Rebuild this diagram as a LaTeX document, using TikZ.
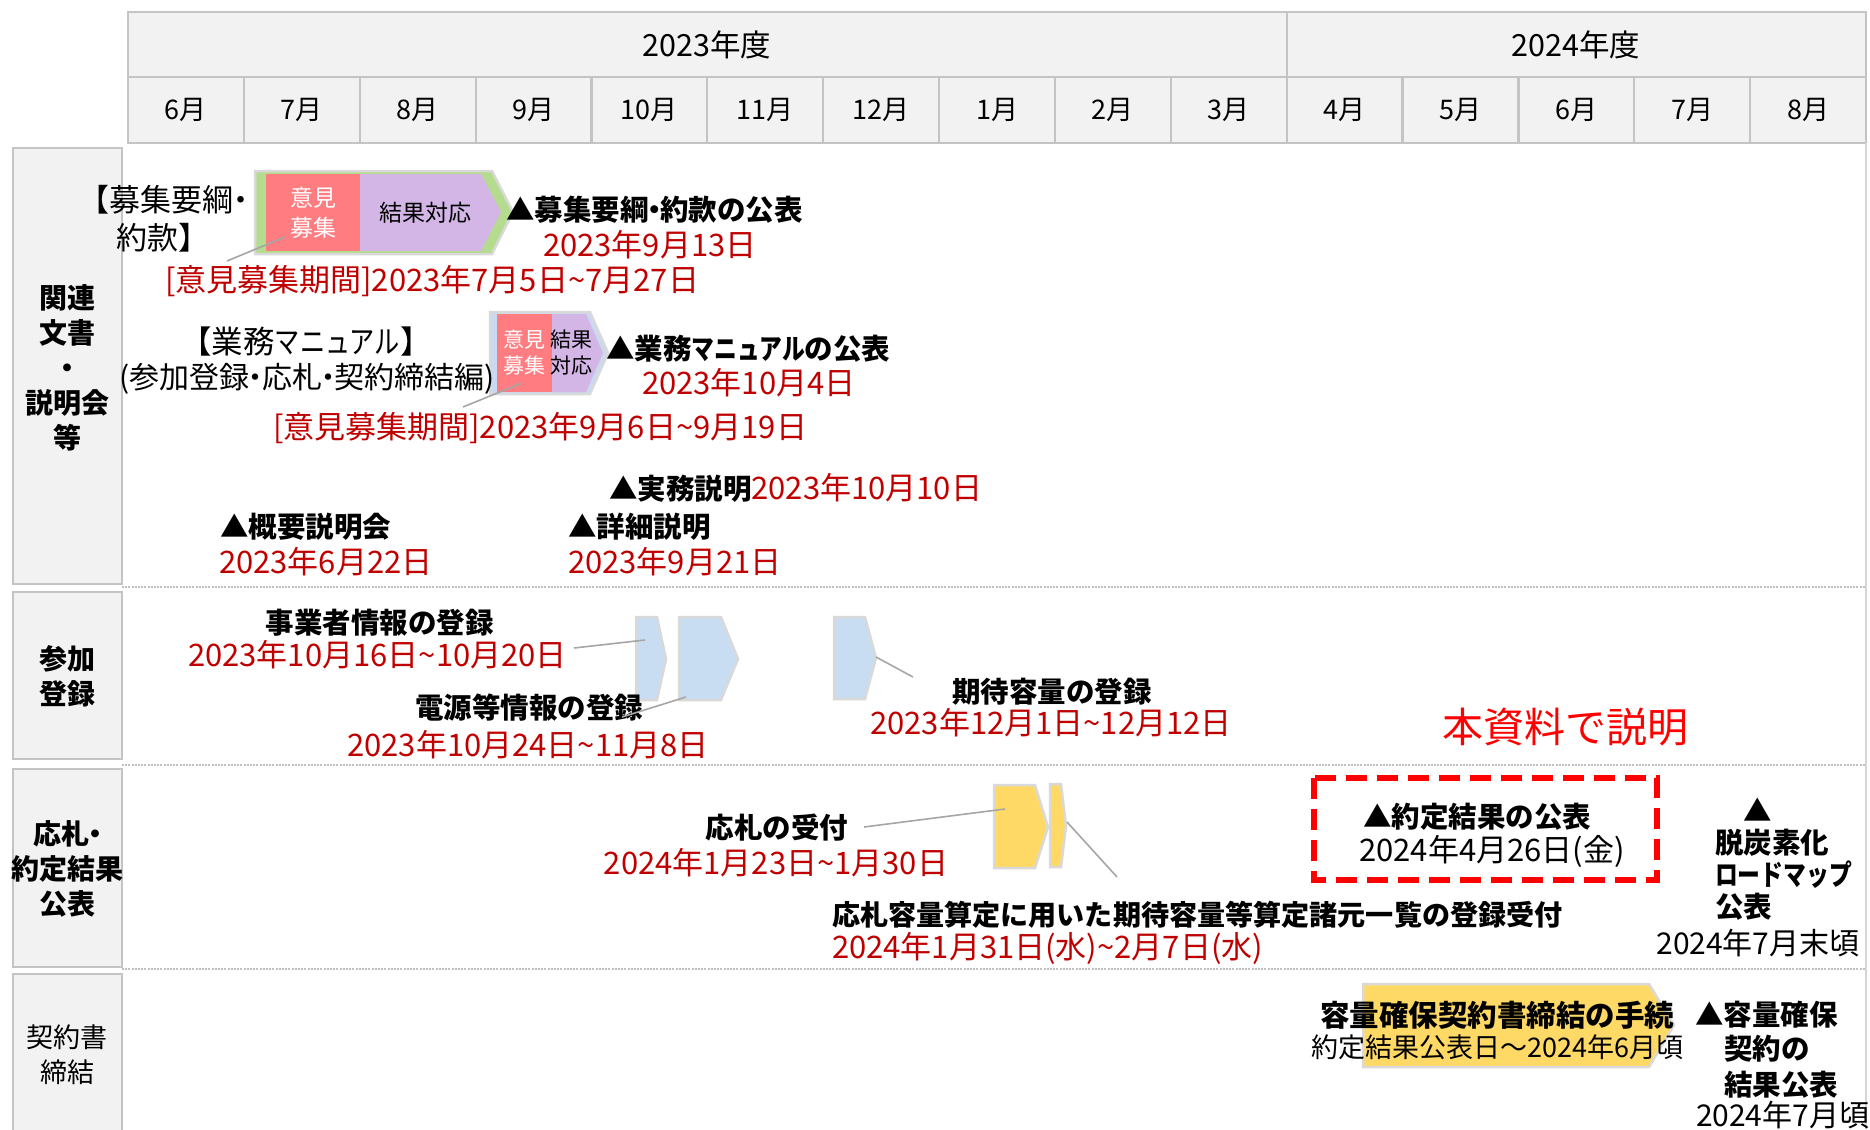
\documentclass[tikz,border=0pt]{standalone}
\usepackage{fontspec}
\usepackage{graphicx}
\setmainfont{Noto Sans CJK JP}
\definecolor{hdrfill}{HTML}{F2F2F2}
\definecolor{hdrline}{HTML}{C4C4C4}
\definecolor{darkred}{HTML}{C00000}
\definecolor{brightred}{HTML}{FF0000}
\definecolor{pinkc}{HTML}{FF7C80}
\definecolor{purplec}{HTML}{D3B6E6}
\definecolor{greenc}{HTML}{B5DC8E}
\definecolor{bluegray}{HTML}{C9DAF0}
\definecolor{lblue}{HTML}{C8DDF2}
\definecolor{yel}{HTML}{FFD966}
\definecolor{shapeline}{HTML}{D9D9D9}
\definecolor{leadc}{HTML}{A6A6A6}
\definecolor{sepc}{HTML}{BFBFBF}
\newcommand\kdot{\makebox[0.42em]{・}}
\newcommand\kana[1]{\scalebox{0.8}[1]{#1}}
\tikzset{
  every node/.style={inner sep=0pt, outer sep=0pt},
  hdrcell/.style={draw=hdrline, line width=2.2pt, fill=hdrfill},
  catbox/.style={draw=hdrline, line width=2.8pt, fill=hdrfill},
  hd/.style={font=\fontsize{27}{33}\selectfont},
  hdy/.style={font=\fontsize{30.5}{36}\selectfont},
  cat/.style={font=\fontsize{28}{35}\selectfont\bfseries, align=center},
  catn/.style={font=\fontsize{27}{35}\selectfont, align=center},
  bk/.style={font=\fontsize{28.5}{32}\selectfont\bfseries},
  rd/.style={font=\fontsize{31}{36}\selectfont, text=darkred},
  nm/.style={font=\fontsize{28}{37}\selectfont},
  inw/.style={font=\fontsize{23}{30}\selectfont, text=white, align=center},
  inb/.style={font=\fontsize{23}{30}\selectfont, align=center},
  inws/.style={font=\fontsize{21}{26}\selectfont, text=white, align=center},
  inbs/.style={font=\fontsize{21}{26}\selectfont, align=center},
  shp/.style={draw=shapeline, line width=2.5pt, line join=miter},
  leader/.style={draw=leadc, line width=1.6pt},
  sepline/.style={draw=sepc, line width=1.4pt, dash pattern=on 2pt off 1.2pt},
}
\begin{document}
\begin{tikzpicture}[x=1pt,y=-1pt]
\useasboundingbox[fill=white] (0,0) rectangle (1870,1129);

% ---------- header ----------
\def\cw{115.8667}
\path[hdrcell] (128,12) rectangle (1286.67,77);
\path[hdrcell] (1286.67,12) rectangle (1866,77);
\node[hdy] (y23) at (707,44.5) {2023年度};
\node[hdy] (y24) at (1576,44.5) {2024年度};
\foreach \m [count=\i from 0] in {6,7,8,9,10,11,12,1,2,3,4,5,6,7,8}{
  \pgfmathsetmacro\xa{128+\i*\cw}
  \pgfmathsetmacro\xb{128+(\i+1)*\cw}
  \path[hdrcell] (\xa,77) rectangle (\xb,143);
  \node[hd] (mon\i) at ({(\xa+\xb)/2},110) {\m 月};
}

% ---------- separators and right edge ----------
\draw[sepline] (122,587) -- (1866,587);
\draw[sepline] (122,765) -- (1866,765);
\draw[sepline] (122,969) -- (1866,969);
\draw[draw=hdrline!70, line width=1.2pt] (1866,143) -- (1866,1129);

% ---------- category boxes ----------
\path[catbox] (13,148) rectangle (122,584);
\node[cat] (c1) at (67.5,367.5) {関連\\文書\\・\\説明会\\等};
\path[catbox] (13,592) rectangle (122,759);
\node[cat] (c2) at (67.5,676) {参加\\登録};
\path[catbox] (13,769) rectangle (122,967);
\node[cat] (c3) at (67.5,869) {応札\kdot\\約定結果\\公表};
\path[catbox] (13,974) rectangle (122,1140);
\node[catn] (c4) at (67.5,1055) {契約書\\締結};

% ---------- row 1 : 募集要綱・約款 ----------
\path[shp, fill=greenc] (255,171) -- (492,171) -- (513,212) -- (492,254) -- (255,254) -- cycle;
\fill[pinkc] (266,174) rectangle (360,251);
\fill[purplec] (360,174) -- (481,174) -- (501,212) -- (481,251) -- (360,251) -- cycle;
\node[inw] (a1p) at (313,213) {意見\\募集};
\node[inb] (a1q) at (425,213) {結果対応};
\coordinate (a1lead) at (285,237);

\node[font=\fontsize{31}{38}\selectfont, align=center] (t1) at (163,218.5) {【募集要綱\kdot\\約款】};
\node[bk, anchor=west] (t1pub) at (506,210) {▲募集要綱\kdot 約款の公表};
\node[rd, anchor=west] (t1date) at (543,245) {2023年9月13日};
\node[rd, anchor=west] (t1per) at (165,281) {[意見募集期間]2023年7月5日\~{}7月27日};
\coordinate (t1lead) at (227,261);
\draw[leader] (t1lead) -- (a1lead);

% ---------- row 1 : 業務マニュアル ----------
\path[shp, fill=bluegray] (490,312) -- (590,312) -- (608,353) -- (590,394) -- (490,394) -- cycle;
\fill[pinkc] (497,314) rectangle (552,392);
\fill[purplec] (552,314) -- (586,314) -- (603,353) -- (586,392) -- (552,392) -- cycle;
\node[inws] (a2p) at (524.5,353) {意見\\募集};
\node[inbs] (a2q) at (571,353) {結果\\対応};
\coordinate (a2lead) at (522,383);

\node[font=\fontsize{31.5}{37}\selectfont] (t2a) at (306,342) {【業務\kana{マニュアル}】};
\node[font=\fontsize{30}{37}\selectfont] (t2b) at (307,379) {(参加登録\kdot 応札\kdot 契約締結編)};
\node[bk, anchor=west] (t2pub) at (606,349) {▲業務\kana{マニュアル}の公表};
\node[rd, anchor=west] (t2date) at (642,383) {2023年10月4日};
\node[rd, anchor=west] (t2per) at (273,428) {[意見募集期間]2023年9月6日\~{}9月19日};
\coordinate (t2lead) at (463,407);
\draw[leader] (t2lead) -- (a2lead);

% ---------- row 1 : 説明会 ----------
\node[bk, anchor=west] (s3) at (609,488) {▲実務説明{\mdseries\color{darkred}\fontsize{31}{36}\selectfont 2023年10月10日}};
\node[bk, anchor=west] (s1) at (220,527) {▲概要説明会};
\node[rd, anchor=west] (s1d) at (219,562) {2023年6月22日};
\node[bk, anchor=west] (s2) at (568,527) {▲詳細説明};
\node[rd, anchor=west] (s2d) at (568,562) {2023年9月21日};

% ---------- row 2 : 参加登録 ----------
\path[shp, fill=lblue] (636,617) -- (657,617) -- (666,659) -- (657,700) -- (636,700) -- cycle;
\path[shp, fill=lblue] (679,617) -- (721,617) -- (738,659) -- (721,700) -- (679,700) -- cycle;
\path[shp, fill=lblue] (834,617) -- (865,617) -- (876,658) -- (865,699) -- (834,699) -- cycle;
\coordinate (bAlead) at (645,640);
\coordinate (bBlead) at (686,697);
\coordinate (bClead) at (876,657);

\node[bk] (r1) at (379.5,623) {事業者情報の登録};
\node[rd] (r1d) at (377.5,655) {2023年10月16日\~{}10月20日};
\coordinate (r1lead) at (574,648);
\draw[leader] (r1lead) -- (bAlead);
\node[bk] (r2) at (529,708) {電源等情報の登録};
\node[rd] (r2d) at (528,745) {2023年10月24日\~{}11月8日};
\coordinate (r2lead) at (622,717);
\draw[leader] (r2lead) -- (bBlead);
\node[bk] (r3) at (1052,692) {期待容量の登録};
\node[rd] (r3d) at (1051,723) {2023年12月1日\~{}12月12日};
\coordinate (r3lead) at (913,677);
\draw[leader] (r3lead) -- (bClead);

\node[font=\fontsize{41}{48}\selectfont, text=brightred] (expl) at (1565.5,727) {本資料で説明};

% ---------- row 3 : 応札・約定結果公表 ----------
\path[shp, fill=yel] (994,785) -- (1035,785) -- (1048,827) -- (1035,868) -- (994,868) -- cycle;
\path[shp, fill=yel] (1050,784) -- (1061,784) -- (1066,826) -- (1061,867) -- (1050,867) -- cycle;
\coordinate (yDlead) at (1005,809);
\coordinate (yElead) at (1067,822);

\node[bk] (o1) at (777,828) {応札の受付};
\node[rd] (o1d) at (776,863) {2024年1月23日\~{}1月30日};
\coordinate (o1lead) at (864,827);
\draw[leader] (o1lead) -- (yDlead);
\node[font=\fontsize{28.1}{32}\selectfont\bfseries, anchor=west] (o2) at (832,915) {応札容量算定に用いた期待容量等算定諸元一覧の登録受付};
\node[rd, anchor=west] (o2d) at (832,948) {2024年1月31日(水)\~{}2月7日(水)};
\coordinate (o2lead) at (1117,877);
\draw[leader] (yElead) -- (o2lead);

\draw[brightred, line width=6pt, dash pattern=on 21pt off 10pt] (1314,778) rectangle (1657,880);
\node[bk] (k1) at (1477,817) {▲約定結果の公表};
\node[font=\fontsize{31}{37}\selectfont] (k1d) at (1492,851) {2024年4月26日(金)};

\node[bk] (d0) at (1758,810) {▲};
\node[bk, anchor=west, align=left, font=\fontsize{28.5}{32}\selectfont\bfseries] (d1) at (1715,875) {脱炭素化\\\kana{ロードマップ}\\公表};
\node[font=\fontsize{30}{37}\selectfont] (d1d) at (1758,943) {2024年7月末頃};

% ---------- row 4 : 契約書締結 ----------
\path[shp, fill=yel] (1363,984) -- (1649,984) -- (1674,1025) -- (1649,1067) -- (1363,1067) -- cycle;
\node[font=\fontsize{29.5}{34}\selectfont\bfseries] (e1) at (1497,1015) {容量確保契約書締結の手続};
\node[font=\fontsize{27}{34}\selectfont] (e1d) at (1497.5,1047) {約定結果公表日～2024年6月頃};
\node[bk, anchor=west] (f1) at (1695,1015) {▲容量確保};
\node[bk, anchor=west] (f2) at (1724,1049) {契約の};
\node[bk, anchor=west] (f3) at (1724,1085) {結果公表};
\node[font=\fontsize{30}{37}\selectfont, anchor=west] (f4) at (1696,1115) {2024年7月頃};
\end{tikzpicture}
\end{document}
